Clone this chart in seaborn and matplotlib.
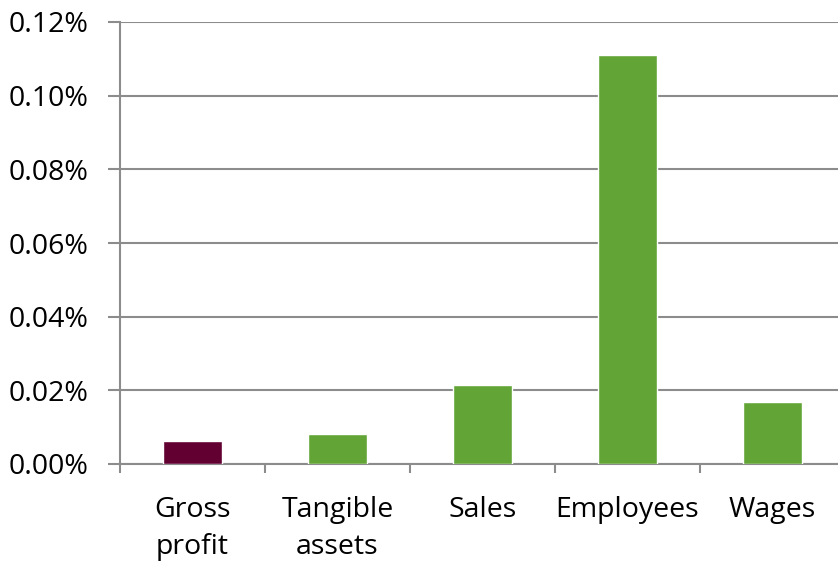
import matplotlib
matplotlib.use("Agg")
import matplotlib.pyplot as plt
from matplotlib.ticker import FuncFormatter, FixedLocator
import seaborn as sns
import pandas as pd

categories = ["Gross\nprofit", "Tangible\nassets", "Sales", "Employees", "Wages"]
values_pct = [0.0062, 0.0081, 0.0214, 0.1110, 0.0168]
bar_colors = ["#620031", "#62A536", "#62A536", "#62A536", "#62A536"]
y_ticks = [0.00, 0.02, 0.04, 0.06, 0.08, 0.10, 0.12]

sns.set_theme(style="white")
plt.rcParams["font.family"] = ["Open Sans", "DejaVu Sans"]

df = pd.DataFrame({"category": categories, "value": values_pct})

fig = plt.figure(figsize=(8.38, 5.62), dpi=100)
ax = fig.add_axes([120 / 838, 98 / 562, 725 / 838, 442 / 562])

sns.barplot(data=df, x="category", y="value", hue="category",
            palette=bar_colors, legend=False, width=0.41, ax=ax,
            saturation=1, zorder=3)

grey = "#8C8C8C"
ax.set_ylim(0, 0.12)
ax.set_xlim(-0.5, len(categories) - 0.5)
ax.set_yticks(y_ticks)
ax.yaxis.set_major_formatter(FuncFormatter(lambda v, p: f"{v:.2f}%"))
ax.grid(axis="y", color=grey, linewidth=1.5, zorder=0)
ax.set_axisbelow(True)

for s in ["top", "right"]:
    ax.spines[s].set_visible(False)
for s in ["left", "bottom"]:
    ax.spines[s].set_color(grey)
    ax.spines[s].set_linewidth(1.5)

ax.tick_params(axis="y", which="major", left=True, length=8.6, width=1.5,
               color=grey, pad=14, labelsize=20.5, labelcolor="black")
ax.tick_params(axis="x", which="major", bottom=False, length=0, pad=23,
               labelsize=20.5, labelcolor="black")
ax.xaxis.set_minor_locator(FixedLocator([i - 0.5 for i in range(len(categories) + 1)]))
ax.tick_params(axis="x", which="minor", bottom=True, length=6.5, width=1.5, color=grey)
for lbl in ax.get_xticklabels():
    lbl.set_linespacing(1.45)

ax.set_xlabel("")
ax.set_ylabel("")

fig.savefig("out.png", dpi=100)
